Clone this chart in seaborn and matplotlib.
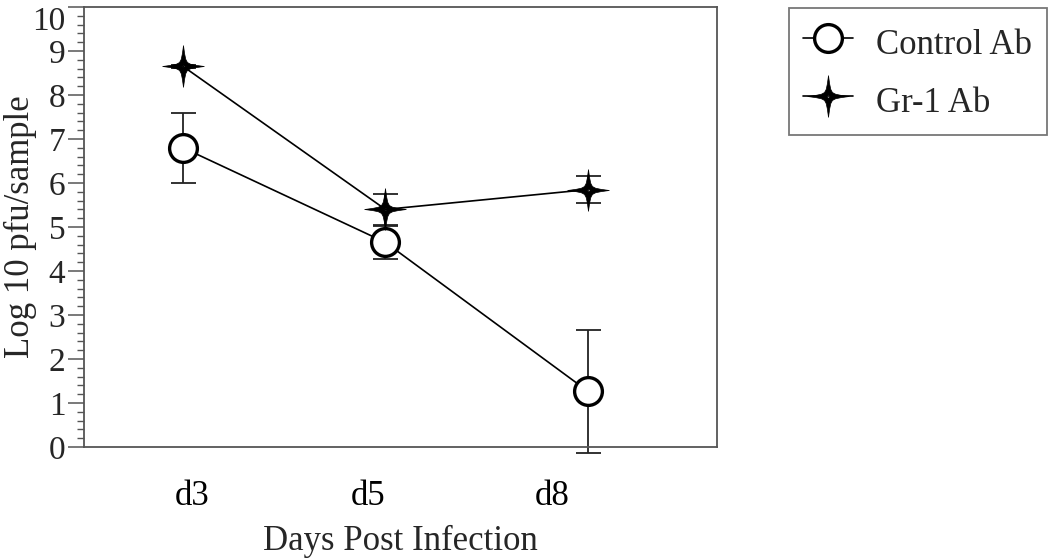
import matplotlib
matplotlib.use("Agg")
import matplotlib.pyplot as plt
import numpy as np
import pandas as pd
import seaborn as sns
from matplotlib.path import Path
from matplotlib.ticker import MultipleLocator

days = ["d3", "d5", "d8"]
control_mean = [6.8, 4.65, 1.27]
control_err = [0.8, 0.37, 1.4]
gr1_mean = [8.65, 5.4, 5.85]
gr1_err = [0.03, 0.35, 0.3]

# the category labels sit a little off the data columns in the original
label_shift = [0.045, -0.085, -0.175]

sns.set_theme(style="white")
plt.rcParams["font.family"] = ["Liberation Serif", "DejaVu Serif"]


def star_marker() -> Path:
    # 4-point star with concave sides and a small hollow centre
    quad = [(0, 1), (0.055, 0.6), (0.11, 0.34), (0.19, 0.19), (0.34, 0.11), (0.6, 0.055)]
    outer = []
    for k in range(4):
        c, s = np.cos(-k * np.pi / 2), np.sin(-k * np.pi / 2)
        outer += [(x * c - y * s, x * s + y * c) for x, y in quad]
    outer.append(outer[0])
    r, q = 0.13, 0.035
    inner = [(0.0, r), (q, q), (r, 0.0), (q, -q), (0.0, -r), (-q, -q), (-r, 0.0), (-q, q), (0.0, r)]
    inner = inner[::-1]
    verts = outer + inner
    codes = ([Path.MOVETO] + [Path.LINETO] * (len(outer) - 2) + [Path.CLOSEPOLY]
             + [Path.MOVETO] + [Path.LINETO] * (len(inner) - 2) + [Path.CLOSEPOLY])
    return Path(verts, codes)


pos = np.arange(len(days))
df_ctrl = pd.DataFrame({"pos": pos, "val": control_mean})
df_gr1 = pd.DataFrame({"pos": pos, "val": gr1_mean})

fig = plt.figure(figsize=(10.5, 5.6), dpi=100)
ax = fig.add_axes([0.08, 0.2018, 0.603, 0.7857])

grey = "#555555"
for means, errs in [(control_mean, control_err), (gr1_mean, gr1_err)]:
    eb = ax.errorbar(pos, means, yerr=errs, fmt="none", ecolor="#222222",
                     elinewidth=1.3, capsize=9, capthick=1.3, zorder=1)
    # the d8 bar runs past the bottom spine in the original
    for art in eb.lines[1] + eb.lines[2]:
        art.set_clip_on(False)

sns.lineplot(data=df_ctrl, x="pos", y="val", ax=ax, color="black", linewidth=1.2,
             marker="o", markersize=20, markerfacecolor="white",
             markeredgecolor="black", markeredgewidth=2.4, label="Control Ab", zorder=3)
sns.lineplot(data=df_gr1, x="pos", y="val", ax=ax, color="black", linewidth=1.2,
             marker=star_marker(), markersize=30, markerfacecolor="black",
             markeredgecolor="black", markeredgewidth=0.5, label="Gr-1 Ab", zorder=4)

ax.set_xlim(-0.49, 2.64)
ax.set_ylim(0, 10)
ax.set_xticks(pos + np.array(label_shift))
ax.set_xticklabels(days)
ax.set_yticks(np.arange(0, 11))
ax.yaxis.set_minor_locator(MultipleLocator(0.2))
ax.tick_params(axis="x", length=0, pad=24, labelsize=25, colors="black")
ax.tick_params(axis="y", which="major", direction="out", length=11.5, width=1.1,
               color=grey, labelsize=24, pad=2, left=True)
ax.tick_params(axis="y", which="minor", direction="out", length=5, width=1.0,
               color=grey, left=True)
for sp in ax.spines.values():
    sp.set_color(grey)
    sp.set_linewidth(1.3)

ax.set_xlabel("Days Post Infection", fontsize=25, labelpad=8)
ax.set_ylabel("Log 10 pfu/sample", fontsize=25)
ax.yaxis.set_label_coords(-0.074, 0.5)

# keep the top label "10" inside the figure
for lab in ax.get_yticklabels():
    if lab.get_text() == "10":
        lab.set_verticalalignment("top")

leg = ax.legend(loc="upper left", bbox_to_anchor=(0.751, 0.986),
                bbox_transform=fig.transFigure, borderaxespad=0, fontsize=25,
                frameon=True, fancybox=False, edgecolor=grey, handlelength=1.45,
                handleheight=1.4, handletextpad=0.65, labelspacing=0.52, borderpad=0.42)
leg.get_frame().set_linewidth(1.3)

fig.savefig("out.png", dpi=100)
